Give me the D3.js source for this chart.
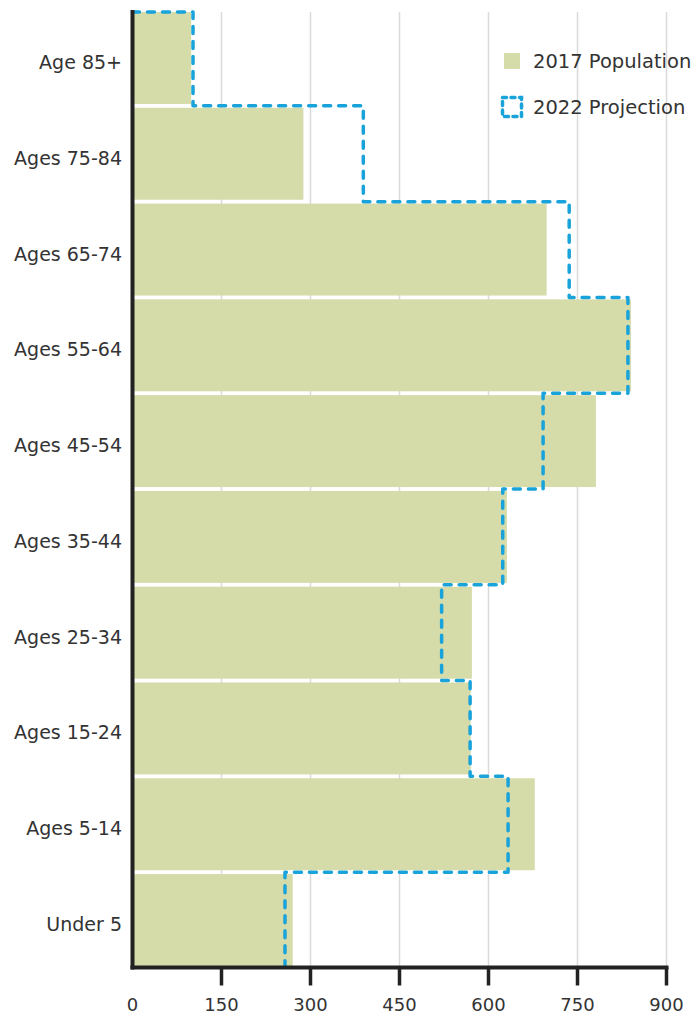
<!DOCTYPE html>
<html>
<head>
<meta charset="utf-8">
<script src="https://cdn.jsdelivr.net/npm/d3@7"></script>
<style>
  html, body { margin: 0; padding: 0; background: #fff; }
  svg { display: block; }
  text { font-family: "DejaVu Sans", sans-serif; fill: #333; }
</style>
</head>
<body>
<svg id="chart" width="698" height="1016"></svg>
<script>
// Age groups, oldest at the top
const categories = ["Age 85+", "Ages 75-84", "Ages 65-74", "Ages 55-64", "Ages 45-54",
                    "Ages 35-44", "Ages 25-34", "Ages 15-24", "Ages 5-14", "Under 5"];
// Population counts
const population2017 = [99, 288, 698, 840, 781, 631, 572, 570, 678, 270];
const projection2022 = [102, 389, 736, 835, 692, 624, 521, 569, 633, 257];
// Axis ticks
const xTicks = [0, 150, 300, 450, 600, 750, 900];
const legendLabels = ["2017 Population", "2022 Projection"];

const barColor = "#d5dba9";
const lineColor = "#19a3da";
const axisColor = "#222222";

const svg = d3.select("#chart");
const plotTop = 12, plotBottom = 966, plotLeft = 132.5, plotRight = 666.5;
const axisY = plotBottom + 1.5;

const x = d3.scaleLinear().domain([0, 900]).range([plotLeft, plotRight]);
const y = d3.scaleBand().domain(categories).range([plotTop, plotBottom])
  .paddingInner(0.04).paddingOuter(0);
const gap = y.step() - y.bandwidth();

// vertical gridlines
svg.append("g").selectAll("line")
  .data(xTicks.filter(d => d > 0))
  .join("line")
  .attr("x1", d => x(d)).attr("x2", d => x(d))
  .attr("y1", plotTop).attr("y2", plotBottom)
  .attr("stroke", "#dadada").attr("stroke-width", 1.5);

// 2017 bars
svg.append("g").selectAll("rect")
  .data(categories)
  .join("rect")
  .attr("x", x(0))
  .attr("y", d => y(d))
  .attr("width", (d, i) => x(population2017[i]) - x(0))
  .attr("height", y.bandwidth())
  .attr("fill", barColor);

// 2022 projection as a stepped outline
const pts = [[x(0), plotTop]];
categories.forEach((c, i) => {
  const y0 = i === 0 ? plotTop : y(c) - gap / 2;
  const y1 = i === categories.length - 1 ? plotBottom : y(c) + y.bandwidth() + gap / 2;
  pts.push([x(projection2022[i]), y0]);
  pts.push([x(projection2022[i]), y1]);
});
svg.append("path")
  .attr("d", d3.line()(pts))
  .attr("fill", "none")
  .attr("stroke", lineColor)
  .attr("stroke-width", 3.5)
  .attr("stroke-dasharray", "7 8")
  .attr("stroke-linecap", "round")
  .attr("stroke-linejoin", "round");

// category labels
svg.append("g").selectAll("text")
  .data(categories)
  .join("text")
  .attr("x", 122)
  .attr("y", d => y(d) + y.bandwidth() / 2 + 11)
  .attr("text-anchor", "end")
  .attr("font-size", 19)
  .text(d => d);

// axis lines
svg.append("rect").attr("x", plotLeft - 2).attr("y", axisY - 2)
  .attr("width", plotRight - plotLeft + 4).attr("height", 4)
  .attr("fill", axisColor);
svg.append("rect").attr("x", plotLeft - 2).attr("y", 10)
  .attr("width", 4).attr("height", axisY + 2 - 10)
  .attr("fill", axisColor);

// x axis tick marks
svg.append("g").selectAll("rect")
  .data(xTicks.filter(d => d > 0))
  .join("rect")
  .attr("x", d => x(d) - 1.75)
  .attr("y", axisY)
  .attr("width", 3.5)
  .attr("height", 18)
  .attr("fill", axisColor);

// x axis labels
svg.append("g").selectAll("text")
  .data(xTicks)
  .join("text")
  .attr("x", d => x(d))
  .attr("y", 1011)
  .attr("text-anchor", "middle")
  .attr("font-size", 18)
  .text(d => d3.format("d")(d));

// legend
const lg = svg.append("g");
lg.append("rect").attr("x", 504).attr("y", 53).attr("width", 16).attr("height", 16)
  .attr("fill", barColor);
lg.append("rect").attr("x", 502.5).attr("y", 97.5).attr("width", 19).attr("height", 19)
  .attr("fill", "none").attr("stroke", lineColor).attr("stroke-width", 3.5)
  .attr("stroke-dasharray", "4 4.5").attr("stroke-linecap", "round");
lg.append("text").attr("x", 533).attr("y", 68).attr("font-size", 19.5).text(legendLabels[0]);
lg.append("text").attr("x", 533).attr("y", 114).attr("font-size", 19.5).text(legendLabels[1]);
</script>
</body>
</html>
